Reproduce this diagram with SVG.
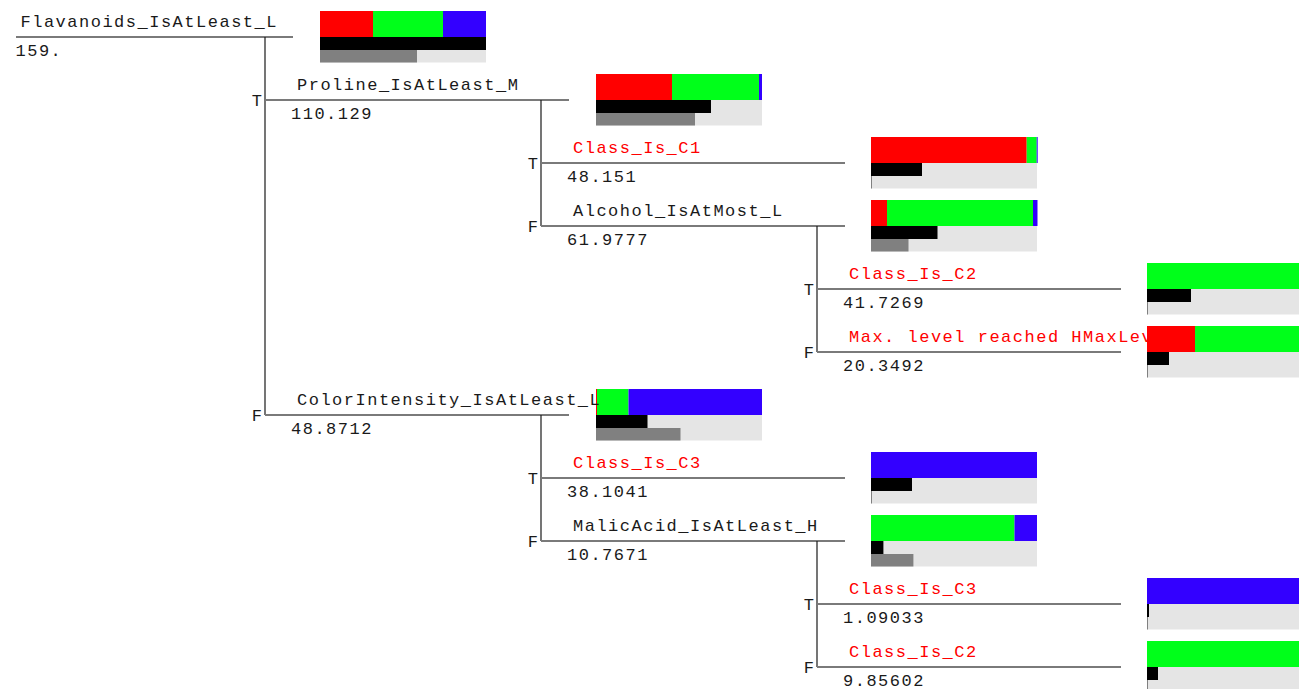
<svg xmlns="http://www.w3.org/2000/svg" width="1299" height="689" viewBox="0 0 1299 689">
<style>
.lbl{font-family:"Liberation Mono","Courier New",monospace;font-size:17px;letter-spacing:1.5px;fill:#1a1a1a}
.leaf{fill:#ff0000}
.tf{font-family:"Liberation Mono","Courier New",monospace;font-size:17px;fill:#1a1a1a;text-anchor:end}
.h{stroke:#7a7a7a;stroke-width:2}
.v{stroke:#1a1a1a;stroke-width:1.2}
.r{fill:#ff0000}.g{fill:#00ff1a}.b{fill:#3300ff}.k{fill:#000}.bg{fill:#e5e5e5}.gr{fill:#808080}
</style>
<rect width="1299" height="689" fill="#fff"/>
<g id="connectors">
<line class="h" x1="16" y1="37" x2="293" y2="37"/>
<line class="v" x1="265" y1="37" x2="265" y2="415"/>
<line class="h" x1="265" y1="100" x2="569" y2="100"/>
<line class="h" x1="265" y1="415" x2="569" y2="415"/>
<line class="v" x1="541" y1="100" x2="541" y2="226"/>
<line class="v" x1="541" y1="415" x2="541" y2="541"/>
<line class="h" x1="541" y1="163" x2="845" y2="163"/>
<line class="h" x1="541" y1="226" x2="845" y2="226"/>
<line class="h" x1="541" y1="478" x2="845" y2="478"/>
<line class="h" x1="541" y1="541" x2="845" y2="541"/>
<line class="v" x1="817" y1="226" x2="817" y2="352"/>
<line class="v" x1="817" y1="541" x2="817" y2="667"/>
<line class="h" x1="817" y1="289" x2="1121" y2="289"/>
<line class="h" x1="817" y1="352" x2="1121" y2="352"/>
<line class="h" x1="817" y1="604" x2="1121" y2="604"/>
<line class="h" x1="817" y1="667" x2="1121" y2="667"/>
<text class="tf" x="262" y="106">T</text>
<text class="tf" x="262" y="421">F</text>
<text class="tf" x="538" y="169">T</text>
<text class="tf" x="538" y="232">F</text>
<text class="tf" x="538" y="484">T</text>
<text class="tf" x="538" y="547">F</text>
<text class="tf" x="814" y="295">T</text>
<text class="tf" x="814" y="358">F</text>
<text class="tf" x="814" y="610">T</text>
<text class="tf" x="814" y="673">F</text>
</g>
<g id="n-root">
<rect class="r" x="320" y="11" width="53" height="26"/><rect class="g" x="373" y="11" width="70" height="26"/><rect class="b" x="443" y="11" width="43" height="26"/>
<rect class="bg" x="320" y="37" width="166" height="25.5"/><rect class="k" x="320" y="37" width="166" height="13"/><rect class="gr" x="320" y="50" width="97" height="12.5"/>
<text class="lbl" x="20.5" y="27">Flavanoids_IsAtLeast_L</text>
<text class="lbl" x="15.5" y="55.5">159.</text>
</g>
<g id="n-proline">
<rect class="r" x="596" y="74" width="76" height="26"/><rect class="g" x="672" y="74" width="87" height="26"/><rect class="b" x="759" y="74" width="3" height="26"/>
<rect class="bg" x="596" y="100" width="166" height="25.5"/><rect class="k" x="596" y="100" width="115" height="13"/><rect class="gr" x="596" y="113" width="99" height="12.5"/>
<text class="lbl" x="297" y="90">Proline_IsAtLeast_M</text>
<text class="lbl" x="291" y="118.5">110.129</text>
</g>
<g id="n-c1">
<rect class="r" x="871" y="137" width="155.7" height="26"/><rect class="g" x="1026.7" y="137" width="10" height="26"/><rect class="b" x="1036.7" y="137" width="1" height="26"/>
<rect class="bg" x="871" y="163" width="166" height="25.5"/><rect class="k" x="871" y="163" width="51" height="13"/><rect class="gr" x="871" y="176" width="1" height="12.5"/>
<text class="lbl leaf" x="573" y="153">Class_Is_C1</text>
<text class="lbl" x="567" y="181.5">48.151</text>
</g>
<g id="n-alcohol">
<rect class="r" x="871" y="200" width="16" height="26"/><rect class="g" x="887" y="200" width="146" height="26"/><rect class="b" x="1033" y="200" width="4.5" height="26"/>
<rect class="bg" x="871" y="226" width="166" height="25.5"/><rect class="k" x="871" y="226" width="66.5" height="13"/><rect class="gr" x="871" y="239" width="37.5" height="12.5"/>
<text class="lbl" x="573" y="216">Alcohol_IsAtMost_L</text>
<text class="lbl" x="567" y="244.5">61.9777</text>
</g>
<g id="n-c2a">
<rect class="g" x="1147" y="263" width="166" height="26"/>
<rect class="bg" x="1147" y="289" width="166" height="25.5"/><rect class="k" x="1147" y="289" width="44" height="13"/><rect class="gr" x="1147" y="302" width="1" height="12.5"/>
<text class="lbl leaf" x="849" y="279">Class_Is_C2</text>
<text class="lbl" x="843" y="307.5">41.7269</text>
</g>
<g id="n-maxlevel">
<text class="lbl leaf" x="849" y="342">Max. level reached HMaxLevel</text>
<rect class="r" x="1147" y="326" width="48" height="26"/><rect class="g" x="1195" y="326" width="118" height="26"/>
<rect class="bg" x="1147" y="352" width="166" height="25.5"/><rect class="k" x="1147" y="352" width="22" height="13"/><rect class="gr" x="1147" y="365" width="1" height="12.5"/>
<text class="lbl" x="843" y="370.5">20.3492</text>
</g>
<g id="n-color">
<rect class="r" x="596" y="389" width="1" height="26"/><rect class="g" x="597" y="389" width="31.5" height="26"/><rect class="b" x="628.5" y="389" width="133.5" height="26"/>
<rect class="bg" x="596" y="415" width="166" height="25.5"/><rect class="k" x="596" y="415" width="51.5" height="13"/><rect class="gr" x="596" y="428" width="84.5" height="12.5"/>
<text class="lbl" x="297" y="405">ColorIntensity_IsAtLeast_L</text>
<text class="lbl" x="291" y="433.5">48.8712</text>
</g>
<g id="n-c3a">
<rect class="b" x="871" y="452" width="166" height="26"/>
<rect class="bg" x="871" y="478" width="166" height="25.5"/><rect class="k" x="871" y="478" width="41" height="13"/><rect class="gr" x="871" y="491" width="1" height="12.5"/>
<text class="lbl leaf" x="573" y="468">Class_Is_C3</text>
<text class="lbl" x="567" y="496.5">38.1041</text>
</g>
<g id="n-malic">
<rect class="g" x="871" y="515" width="143.5" height="26"/><rect class="b" x="1014.5" y="515" width="22.5" height="26"/>
<rect class="bg" x="871" y="541" width="166" height="25.5"/><rect class="k" x="871" y="541" width="12.4" height="13"/><rect class="gr" x="871" y="554" width="42.4" height="12.5"/>
<text class="lbl" x="573" y="531">MalicAcid_IsAtLeast_H</text>
<text class="lbl" x="567" y="559.5">10.7671</text>
</g>
<g id="n-c3b">
<rect class="b" x="1147" y="578" width="166" height="26"/>
<rect class="bg" x="1147" y="604" width="166" height="25.5"/><rect class="k" x="1147" y="604" width="2" height="13"/><rect class="gr" x="1147" y="617" width="1" height="12.5"/>
<text class="lbl leaf" x="849" y="594">Class_Is_C3</text>
<text class="lbl" x="843" y="622.5">1.09033</text>
</g>
<g id="n-c2b">
<rect class="g" x="1147" y="641" width="166" height="26"/>
<rect class="bg" x="1147" y="667" width="166" height="25.5"/><rect class="k" x="1147" y="667" width="11" height="13"/><rect class="gr" x="1147" y="680" width="1" height="12.5"/>
<text class="lbl leaf" x="849" y="657">Class_Is_C2</text>
<text class="lbl" x="843" y="685.5">9.85602</text>
</g>
</svg>
